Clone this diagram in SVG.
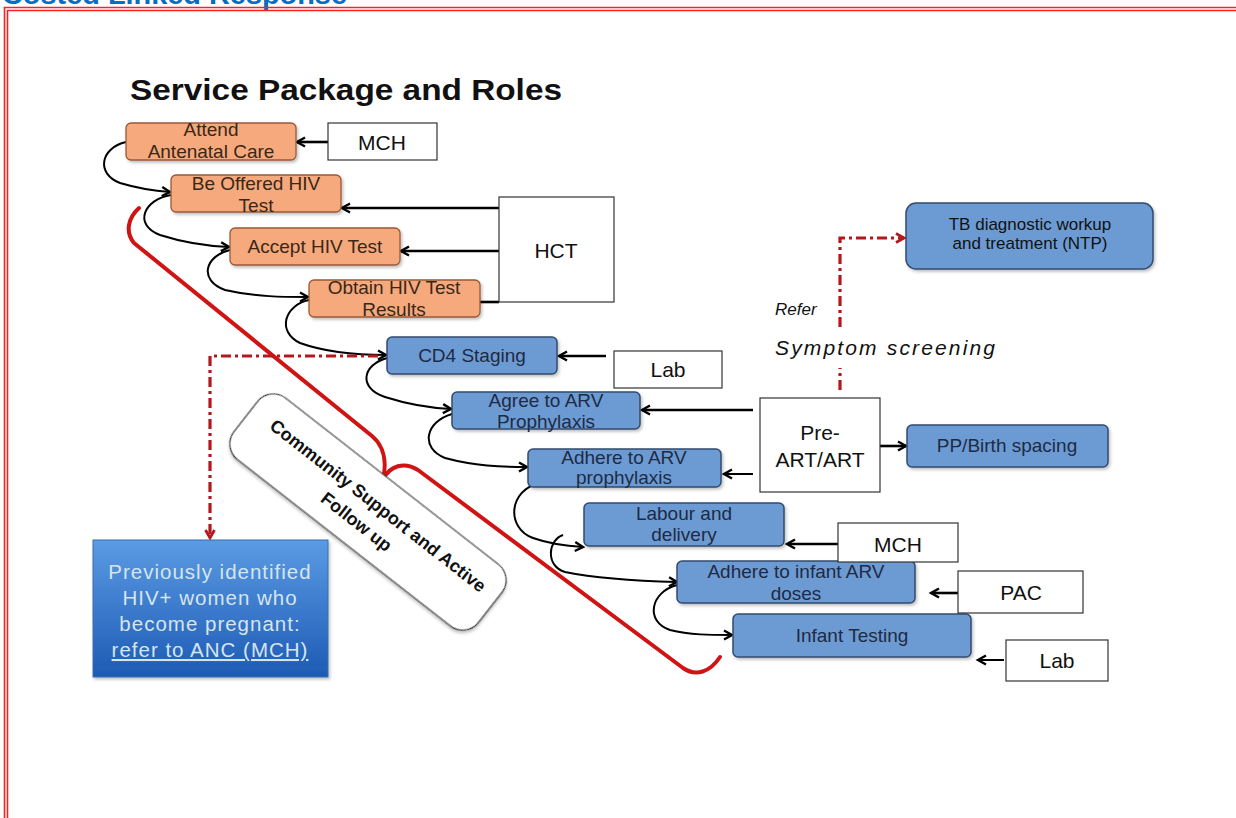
<svg xmlns="http://www.w3.org/2000/svg" width="1236" height="818" viewBox="0 0 1236 818">
<defs>
<style>
.lbl{font-family:"Liberation Sans",Arial,sans-serif;font-size:19px;fill:#1f2a44;text-anchor:middle}
.olbl{font-family:"Liberation Sans",Arial,sans-serif;font-size:19px;fill:#3a2718;text-anchor:middle}
.wlbl{font-family:"Liberation Sans",Arial,sans-serif;font-size:21px;fill:#111;text-anchor:middle}
.orange{fill:#f5a97c;stroke:#9a5a36;stroke-width:1.3}
.blue{fill:#6c9bd3;stroke:#334b6e;stroke-width:1.5}
.white{fill:#fff;stroke:#333;stroke-width:1.2}
.conn{fill:none;stroke:#000;stroke-width:2}
.thick{fill:none;stroke:#000;stroke-width:2.6}
.dash{fill:none;stroke:#b4181c;stroke-width:3.2;stroke-dasharray:10,4,3,4}
.frame{fill:none;stroke:#ff2020;stroke-width:1.6}
.brace{fill:none;stroke:#d01414;stroke-width:4;stroke-linecap:round;stroke-linejoin:round}
.ital{font-family:"Liberation Sans",Arial,sans-serif;font-style:italic;fill:#111}
</style>
<marker id="ah" markerUnits="userSpaceOnUse" markerWidth="14" markerHeight="14" refX="10" refY="6" orient="auto">
<path d="M2,1.5 L10,6 L2,10.5" fill="none" stroke="#000" stroke-width="2.4"/>
</marker>
<marker id="rh" markerUnits="userSpaceOnUse" markerWidth="14" markerHeight="14" refX="10" refY="6" orient="auto">
<path d="M2,1.5 L10,6 L2,10.5" fill="none" stroke="#b4181c" stroke-width="2.8"/>
</marker>
<linearGradient id="pg" x1="0" y1="0" x2="0" y2="1">
<stop offset="0" stop-color="#5b9be4"/>
<stop offset="1" stop-color="#1d5ab4"/>
</linearGradient>
<filter id="sh" x="-10%" y="-10%" width="130%" height="140%">
<feDropShadow dx="1.5" dy="2" stdDeviation="1.5" flood-color="#000" flood-opacity="0.25"/>
</filter>
</defs>
<rect width="1236" height="818" fill="#fff"/>

<!-- frame and heading -->
<text x="2" y="4" font-family="Liberation Sans,Arial,sans-serif" font-weight="bold" font-size="28" fill="#0070c0" textLength="345" lengthAdjust="spacingAndGlyphs">Costed Linked Response</text>
<path class="frame" d="M4.5,818 V7.5 H1236"/>
<path class="frame" d="M7.5,818 V10.5 H1236"/>

<text x="130" y="100" font-family="Liberation Sans,Arial,sans-serif" font-weight="bold" font-size="29" fill="#111" textLength="432" lengthAdjust="spacingAndGlyphs">Service Package and Roles</text>

<!-- red brace -->
<g id="brace">
<path class="brace" d="M139,208 C128,218 125,232 134,243 L372,436 C384,446 387,462 383,479"/>
<path class="brace" d="M383,479 C390,466 404,461 418,470 L683,668 C696,677 710,672 720,657"/>
</g>

<!-- community support -->
<g id="community" transform="translate(368,512) rotate(38)">
<rect x="-155" y="-39" width="310" height="78" rx="20" fill="#fff" stroke="#222" stroke-width="1.1" filter="url(#sh)"/>
<text x="4" y="-5" font-family="Liberation Sans,Arial,sans-serif" font-weight="bold" font-size="18" fill="#111" text-anchor="middle">Community Support and Active</text>
<text x="-3" y="21" font-family="Liberation Sans,Arial,sans-serif" font-weight="bold" font-size="18" fill="#111" text-anchor="middle">Follow up</text>
</g>

<!-- connectors -->
<g id="connectors">
<path class="conn" marker-end="url(#ah)" d="M126,142 C100,148 96,174 120,183 C140,189 155,191 170,192"/>
<path class="conn" marker-end="url(#ah)" d="M171,195 C145,199 132,224 160,235 C185,243 205,246 229,247"/>
<path class="conn" marker-end="url(#ah)" d="M230,250 C205,256 198,280 225,290 C255,297 285,297 308,297"/>
<path class="conn" marker-end="url(#ah)" d="M309,300 C285,305 276,331 300,343 C325,352 355,355 386,355"/>
<path class="conn" marker-end="url(#ah)" d="M387,358 C362,365 358,388 385,397 C410,405 430,408 451,409"/>
<path class="conn" marker-end="url(#ah)" d="M452,414 C425,422 420,448 445,458 C475,466 500,467 527,467"/>
<path class="conn" marker-end="url(#ah)" d="M540,483 C508,490 506,528 533,538 C550,544 566,546 583,547"/>
<path class="conn" marker-end="url(#ah)" d="M563,535 C548,540 545,566 565,572 C600,579 640,581 677,582"/>
<path class="conn" marker-end="url(#ah)" d="M677,585 C650,592 645,622 670,630 C690,635 710,635 732,635"/>

<path class="thick" marker-end="url(#ah)" d="M328,142 H297"/>
<path class="thick" marker-end="url(#ah)" d="M499,208 H342"/>
<path class="thick" marker-end="url(#ah)" d="M499,251 H401"/>
<path class="thick" marker-end="url(#ah)" d="M499,302 H472"/>
<path class="thick" marker-end="url(#ah)" d="M606,356 H559"/>
<path class="thick" marker-end="url(#ah)" d="M753,410 H642"/>
<path class="conn" marker-end="url(#ah)" d="M753,474 H724"/>
<path class="thick" marker-end="url(#ah)" d="M880,446 H906"/>
<path class="thick" marker-end="url(#ah)" d="M838,544 H787"/>
<path class="thick" marker-end="url(#ah)" d="M958,593 H931"/>
<path class="conn" marker-end="url(#ah)" d="M1004,660 H978"/>

<path class="dash" marker-end="url(#rh)" d="M378,356 H210 V538"/>
<path class="dash" d="M840,390 V368"/>
<path class="dash" marker-end="url(#rh)" d="M840,327 V238 H904"/>
</g>

<text class="ital" x="775" y="315" font-size="17">Refer</text>
<text class="ital" x="775" y="355" font-size="21" textLength="220" lengthAdjust="spacing">Symptom screening</text>

<!-- orange nodes -->
<g id="n-attend"><rect class="orange" x="126" y="123" width="170" height="37" rx="5" filter="url(#sh)"/>
<text class="olbl" x="211" y="136">Attend</text><text class="olbl" x="211" y="158">Antenatal Care</text></g>
<g id="n-offered"><rect class="orange" x="171" y="175" width="170" height="37" rx="5" filter="url(#sh)"/>
<text class="olbl" x="256" y="190">Be Offered HIV</text><text class="olbl" x="256" y="212">Test</text></g>
<g id="n-accept"><rect class="orange" x="230" y="228" width="170" height="37" rx="5" filter="url(#sh)"/>
<text class="olbl" x="315" y="253">Accept HIV Test</text></g>
<g id="n-obtain"><rect class="orange" x="309" y="280" width="171" height="37" rx="5" filter="url(#sh)"/>
<text class="olbl" x="394" y="294">Obtain HIV Test</text><text class="olbl" x="394" y="316">Results</text></g>

<!-- blue nodes -->
<g id="n-cd4"><rect class="blue" x="387" y="337" width="170" height="37" rx="5" filter="url(#sh)"/>
<text class="lbl" x="472" y="362">CD4 Staging</text></g>
<g id="n-agree"><rect class="blue" x="452" y="392" width="188" height="37" rx="5" filter="url(#sh)"/>
<text class="lbl" x="546" y="407">Agree to ARV</text><text class="lbl" x="546" y="428">Prophylaxis</text></g>
<g id="n-adhere"><rect class="blue" x="528" y="449" width="193" height="38" rx="5" filter="url(#sh)"/>
<text class="lbl" x="624" y="464">Adhere to ARV</text><text class="lbl" x="624" y="484">prophylaxis</text></g>
<g id="n-labour"><rect class="blue" x="584" y="503" width="200" height="43" rx="5" filter="url(#sh)"/>
<text class="lbl" x="684" y="520">Labour and</text><text class="lbl" x="684" y="541">delivery</text></g>
<g id="n-infantarv"><rect class="blue" x="677" y="561" width="238" height="42" rx="5" filter="url(#sh)"/>
<text class="lbl" x="796" y="578">Adhere to infant ARV</text><text class="lbl" x="796" y="600">doses</text></g>
<g id="n-infanttest"><rect class="blue" x="733" y="614" width="238" height="43" rx="5" filter="url(#sh)"/>
<text class="lbl" x="852" y="642">Infant Testing</text></g>
<g id="n-tb"><rect class="blue" x="906" y="203" width="247" height="66" rx="10" filter="url(#sh)"/>
<text x="1030" y="230" font-family="Liberation Sans,Arial,sans-serif" font-size="17" fill="#111" text-anchor="middle">TB diagnostic workup</text>
<text x="1030" y="249" font-family="Liberation Sans,Arial,sans-serif" font-size="17" fill="#111" text-anchor="middle">and treatment (NTP)</text></g>
<g id="n-pp"><rect class="blue" x="907" y="425" width="201" height="42" rx="5" filter="url(#sh)"/>
<text class="lbl" x="1007" y="452">PP/Birth spacing</text></g>

<g id="n-prev"><rect x="93" y="540" width="235" height="137" fill="url(#pg)" stroke="#3a6db0" stroke-width="1" filter="url(#sh)"/>
<g font-family="Liberation Sans,Arial,sans-serif" font-size="20.5" fill="#d6e5ec" text-anchor="middle" letter-spacing="1">
<text x="210" y="579">Previously identified</text>
<text x="210" y="605">HIV+ women who</text>
<text x="210" y="631">become pregnant:</text>
<text x="210" y="657" text-decoration="underline">refer to ANC (MCH)</text>
</g></g>

<!-- white role nodes -->
<g id="r-mch1"><rect class="white" x="328" y="123" width="109" height="37"/><text class="wlbl" x="382" y="150">MCH</text></g>
<g id="r-hct"><rect class="white" x="499" y="197" width="115" height="105"/><text class="wlbl" x="556" y="258">HCT</text></g>
<g id="r-lab1"><rect class="white" x="614" y="351" width="108" height="37"/><text class="wlbl" x="668" y="377">Lab</text></g>
<g id="r-preart"><rect class="white" x="760" y="398" width="120" height="94"/><text class="wlbl" x="820" y="440">Pre-</text><text class="wlbl" x="820" y="467">ART/ART</text></g>
<g id="r-mch2"><rect class="white" x="838" y="523" width="120" height="39"/><text class="wlbl" x="898" y="552">MCH</text></g>
<g id="r-pac"><rect class="white" x="958" y="571" width="125" height="42"/><text class="wlbl" x="1021" y="600">PAC</text></g>
<g id="r-lab2"><rect class="white" x="1006" y="640" width="102" height="41"/><text class="wlbl" x="1057" y="668">Lab</text></g>
</svg>
